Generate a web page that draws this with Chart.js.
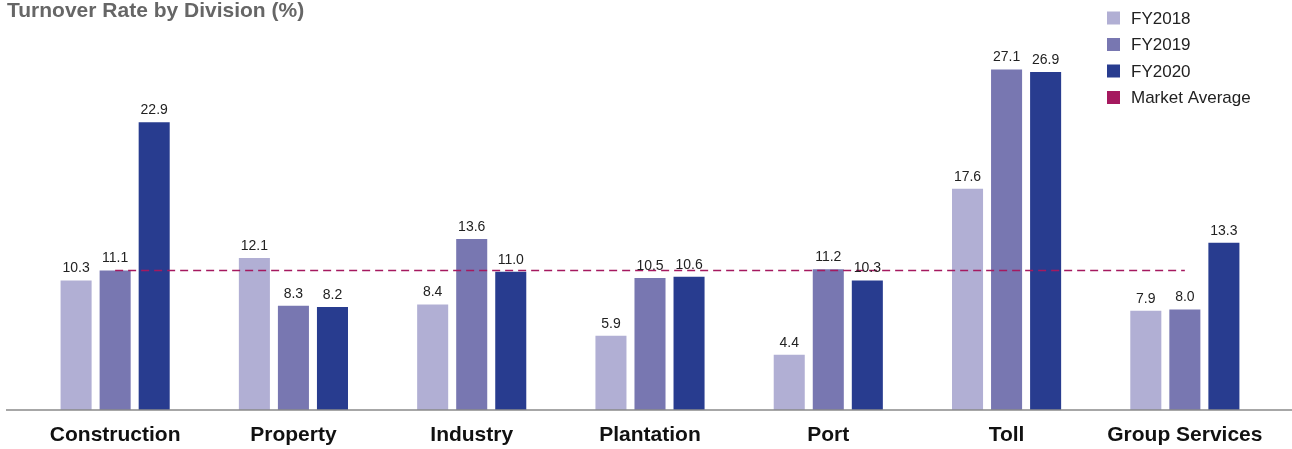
<!DOCTYPE html>
<html>
<head>
<meta charset="utf-8">
<script src="https://cdn.jsdelivr.net/npm/chart.js@4.4.1/dist/chart.umd.min.js"></script>
<style>
  body { margin: 0; background: #fff; }
  #wrap { width: 1292px; height: 449px; position: relative; }
</style>
</head>
<body>
<div id="wrap"><canvas id="canva"></canvas></div>
<script>
const divisions = ["Construction", "Property", "Industry", "Plantation", "Port", "Toll", "Group Services"];
const fy2018 = [10.3, 12.1, 8.4, 5.9, 4.4, 17.6, 7.9];
const fy2019 = [11.1, 8.3, 13.6, 10.5, 11.2, 27.1, 8.0];
const fy2020 = [22.9, 8.2, 11.0, 10.6, 10.3, 26.9, 13.3];
const marketAverage = [11.1, 11.1, 11.1, 11.1, 11.1, 11.1, 11.1];

const FONT = "'Liberation Sans', Arial, Helvetica, sans-serif";

// title, side legend, value labels and the full-width baseline
const extras = {
  id: "extras",
  afterDatasetsDraw(chart) {
    const ctx = chart.ctx;
    const yScale = chart.scales.y;
    ctx.save();

    // baseline
    ctx.strokeStyle = "#8a8a8a";
    ctx.lineWidth = 1.5;
    ctx.beginPath();
    ctx.moveTo(6, yScale.getPixelForValue(0));
    ctx.lineTo(chart.width, yScale.getPixelForValue(0));
    ctx.stroke();

    // values on top of the bars
    ctx.font = "14px " + FONT;
    ctx.fillStyle = "#222";
    ctx.textAlign = "center";
    ctx.textBaseline = "bottom";
    chart.data.datasets.forEach((ds, i) => {
      if (ds.type === "line") return;
      chart.getDatasetMeta(i).data.forEach((bar, j) => {
        ctx.fillText(ds.data[j].toFixed(1), bar.x, bar.y - 5);
      });
    });

    // title
    ctx.font = "bold 21px " + FONT;
    ctx.fillStyle = "#666";
    ctx.textAlign = "left";
    ctx.textBaseline = "alphabetic";
    ctx.fillText("Turnover Rate by Division (%)", 7, 17);

    // legend
    ctx.font = "17px " + FONT;
    ctx.textBaseline = "middle";
    chart.data.datasets.forEach((ds, i) => {
      const y = 18 + i * 26.5;
      ctx.fillStyle = ds.legendColor;
      ctx.fillRect(1107, y - 6.5, 13, 13);
      ctx.fillStyle = "#222";
      ctx.fillText(ds.label, 1131, y + 1);
    });
    ctx.restore();
  }
};

const data = {
  labels: divisions,
  datasets: [
    {
      label: "FY2018",
      data: fy2018,
      backgroundColor: "#b1afd4",
      legendColor: "#b1afd4",
      order: 2,
    },
    {
      label: "FY2019",
      data: fy2019,
      backgroundColor: "#7877b1",
      legendColor: "#7877b1",
      order: 2,
    },
    {
      label: "FY2020",
      data: fy2020,
      backgroundColor: "#283c8f",
      legendColor: "#283c8f",
      order: 2,
    },
    {
      type: "line",
      label: "Market Average",
      data: marketAverage,
      borderColor: "#a5195f",
      legendColor: "#a5195f",
      borderWidth: 1.5,
      borderDash: [8, 5],
      pointRadius: 0,
      fill: false,
      order: 1,
    },
  ],
};

const config = {
  type: "bar",
  data: data,
  options: {
    responsive: true,
    maintainAspectRatio: false,
    animation: false,
    layout: {
      padding: { left: 26, right: 18, top: 33, bottom: 0 },
    },
    datasets: {
      bar: {
        categoryPercentage: 0.657,
        barPercentage: 0.795,
      },
    },
    scales: {
      x: {
        grid: { display: false, drawTicks: false },
        border: { display: false },
        afterFit(scale) {
          scale.height = 39;
        },
        ticks: {
          padding: 13,
          color: "#111",
          font: { family: FONT, size: 21, weight: "bold" },
        },
      },
      y: {
        display: false,
        min: 0,
        max: 30,
      },
    },
    plugins: {
      legend: { display: false },
      tooltip: { enabled: false },
    },
  },
  plugins: [extras],
};

const myChart = new Chart(document.getElementById("canva"), config);
</script>
</body>
</html>
